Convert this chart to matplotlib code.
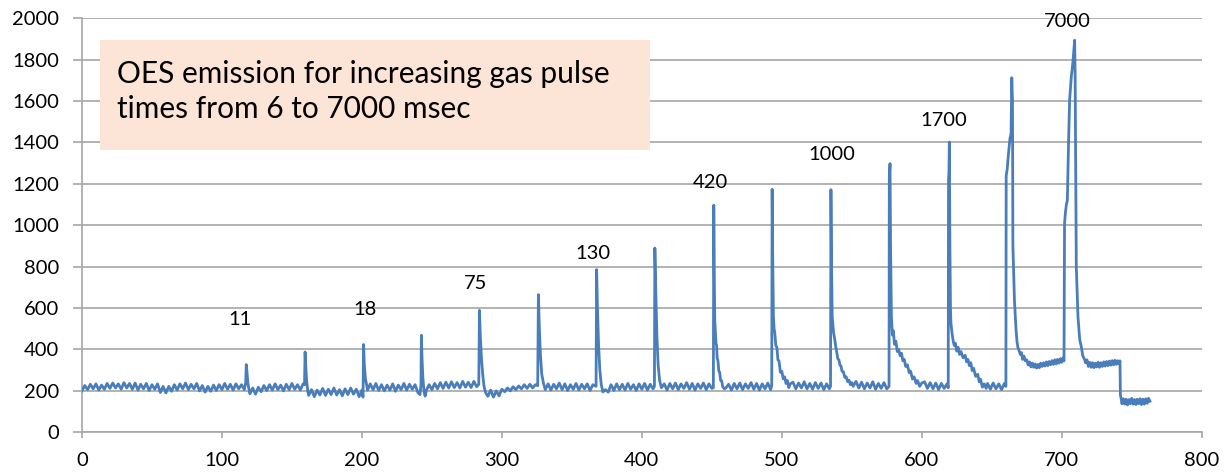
import matplotlib
matplotlib.use("Agg")
import matplotlib.pyplot as plt
from matplotlib.patches import Rectangle

# OES trace (time axis units as in the original chart)
t = [
    # baseline
    0, 2, 4, 6, 8, 10, 12, 14, 16, 18, 20, 22, 24, 26, 28, 30, 32, 34, 36, 38,
    40, 42, 44, 46, 48, 50, 52, 54, 56, 58, 60, 62, 64, 66, 68, 70, 72, 74, 76, 78,
    80, 82, 84, 86, 88, 90, 92, 94, 96, 98, 100, 102, 104, 106, 108, 110, 112, 114, 116,
    # pulse 11
    117, 117.4, 117.8, 118.5, 119.5,
    120, 122, 124, 126, 128, 130, 132, 134, 136, 138, 140, 142, 144, 146, 148, 150, 152, 154, 156, 158,
    159, 159.4, 159.9, 160.5, 161.3,
    162, 164, 166, 168, 170, 172, 174, 176, 178, 180, 182, 184, 186, 188, 190, 192, 194, 196, 198, 200,
    # pulse 18
    200.8, 201.2, 201.7, 202.5, 203.5,
    204, 206, 208, 210, 212, 214, 216, 218, 220, 222, 224, 226, 228, 230, 232, 234, 236, 238, 240,
    241.5, 242.2, 242.5, 243, 243.6, 244.4, 245.2,
    246, 248, 250, 252, 254, 256, 258, 260, 262, 264, 266, 268, 270, 272, 274, 276, 278, 280, 282,
    # pulse 75
    283.5, 284, 284.6, 285.4, 286.3, 287.3, 288.5,
    290, 292, 294, 296, 298, 300, 302, 304, 306, 308, 310, 312, 314, 316, 318, 320, 322, 324,
    325.6, 326.1, 326.7, 327.5, 328.5, 329.8,
    331, 333, 335, 337, 339, 341, 343, 345, 347, 349, 351, 353, 355, 357, 359, 361, 363, 365,
    # pulse 130
    367.3, 367.7, 368.3, 369.1, 370, 371, 372.2,
    374, 376, 378, 380, 382, 384, 386, 388, 390, 392, 394, 396, 398, 400, 402, 404, 406, 408,
    409, 409.3, 409.9, 410.7, 411.6, 412.7, 414,
    416, 418, 420, 422, 424, 426, 428, 430, 432, 434, 436, 438, 440, 442, 444, 446, 448, 450,
    # pulse 420
    451.1, 451.4, 451.7, 452.1, 452.6, 453, 453.4, 453.8, 454.4, 455, 455.6, 456.3, 457, 457.8, 459,
    460, 462, 464, 466, 468, 470, 472, 474, 476, 478, 480, 482, 484, 486, 488, 490, 492,
    492.8, 493.1, 493.5, 494, 494.5, 495, 495.7, 496.5, 497.2, 498, 499, 500, 501, 502, 503, 504, 505, 506,
    508, 510, 512, 514, 516, 518, 520, 522, 524, 526, 528, 530, 532, 534,
    # pulse 1000
    534.8, 535.1, 535.5, 536, 536.5, 537, 537.8, 538.5, 539.2, 540, 540.8, 541.5, 542.3, 543, 544, 545,
    546, 547, 548, 549, 550, 551,
    553, 555, 557, 559, 561, 563, 565, 567, 569, 571, 573, 575,
    576.6, 576.8, 577, 577.3, 577.7, 578.3, 579, 579.7, 580.5, 581.5, 582.5, 583.5, 584.5, 585.5, 586.5,
    587.5, 588.5, 589.7, 591, 592, 593.3, 594.5, 596, 597, 598.5, 600,
    602, 604, 606, 608, 610, 612, 614, 616, 618,
    # pulse 1700
    618.9, 619.1, 619.4, 619.7, 620.1, 620.5, 620.8, 621.4, 622, 622.6, 623.2, 624, 625, 626, 627, 628,
    629.5, 631, 632, 633, 634, 635, 636, 637, 638.5, 640, 641, 642, 643.3, 644.6, 646, 647,
    649, 651, 653, 655, 657, 659,
    660.1, 660.3, 661, 662, 663, 663.8, 664.3, 664.8, 665.1, 665.5, 666.2, 667.3, 668, 668.6, 669.5, 670.5,
    671.2, 672, 673, 674, 675, 676, 677, 678, 679, 680, 681, 682, 683, 684, 685, 686, 687, 688, 689, 690,
    691, 692, 693, 694, 695, 696, 697, 698, 699, 700, 701, 701.6,
    # pulse 7000
    702, 702.6, 703.3, 704, 704.8, 705.6, 706.8, 708, 709.2, 709.6, 709.8, 710.4, 711.6, 712.8, 714, 715,
    716.3, 717, 718, 719, 720, 721, 722, 723, 724, 725, 726, 727, 728, 729, 730, 731, 732, 733, 734, 735,
    736, 737, 738, 739, 740, 741, 741.6,
    741.9, 742.5, 743, 744, 745, 746, 747, 748, 749, 750, 751, 752, 753, 754, 755, 756, 757, 758, 759,
    760, 761, 762, 763,
]
oes = [
    200, 226, 206, 232, 210, 234, 204, 228, 208, 236, 212, 238, 214, 234, 208, 240, 214, 236, 208, 238,
    204, 232, 210, 236, 202, 230, 208, 234, 192, 222, 190, 222, 198, 230, 204, 234, 210, 238, 206, 232,
    210, 236, 200, 226, 194, 222, 198, 228, 202, 230, 206, 236, 208, 232, 204, 234, 210, 230, 206,
    240, 327, 300, 240, 200,
    186, 214, 184, 218, 196, 226, 202, 230, 204, 234, 206, 228, 200, 232, 206, 236, 208, 230, 204, 234,
    230, 388, 320, 250, 200,
    178, 206, 172, 204, 180, 212, 178, 208, 182, 214, 180, 206, 176, 210, 182, 214, 184, 208, 172, 204,
    170, 424, 330, 260, 225,
    204, 234, 206, 236, 202, 230, 200, 228, 204, 234, 198, 228, 206, 236, 204, 232, 208, 230, 192,
    182, 230, 469, 350, 260, 195, 175,
    202, 230, 206, 236, 210, 240, 212, 242, 214, 244, 216, 240, 214, 246, 218, 242, 216, 246, 220,
    232, 589, 470, 360, 280, 220, 190,
    174, 204, 170, 200, 176, 208, 196, 214, 200, 220, 206, 224, 210, 230, 212, 232, 214, 230,
    225, 665, 520, 380, 280, 235,
    206, 234, 204, 232, 210, 238, 206, 234, 202, 230, 208, 236, 204, 232, 210, 234, 202, 230,
    222, 786, 600, 420, 300, 230, 195,
    206, 194, 230, 202, 234, 206, 232, 204, 236, 208, 230, 202, 234, 208, 236, 204, 232, 210,
    222, 890, 700, 480, 330, 250, 215,
    234, 204, 236, 210, 238, 206, 234, 212, 240, 208, 236, 204, 234, 212, 238, 206, 234, 212,
    215, 1097, 800, 540, 480, 430, 420, 360, 345, 295, 290, 250, 250, 220, 210,
    214, 232, 204, 236, 210, 238, 206, 234, 212, 240, 208, 236, 204, 234, 210, 238, 206,
    225, 1174, 850, 560, 500, 480, 420, 410, 350, 345, 290, 295, 258, 268, 236, 250, 216, 234,
    242, 210, 238, 214, 244, 210, 236, 208, 240, 212, 238, 206, 234, 210,
    222, 1172, 820, 560, 520, 480, 450, 415, 390, 355, 350, 325, 320, 295, 292, 265,
    268, 245, 252, 230, 240, 222,
    246, 214, 242, 210, 238, 214, 244, 208, 236, 212, 240, 210,
    222, 1230, 1260, 1298, 900, 560, 470, 490, 425, 440, 390, 400, 370, 382, 345,
    352, 318, 326, 288, 296, 258, 268, 236, 250, 222, 238,
    244, 212, 240, 210, 238, 206, 236, 212, 234,
    215, 1217, 1260, 1402, 900, 600, 530, 490, 460, 435, 420, 430, 392, 410, 376, 390,
    360, 372, 340, 352, 322, 336, 298, 310, 270, 280, 244, 256, 218, 234, 212, 236,
    208, 238, 210, 234, 206, 236,
    222, 1240, 1270, 1350, 1420, 1443, 1713, 1600, 900, 798, 638, 500, 440, 412, 395, 375,
    385, 352, 368, 345, 350, 325, 340, 316, 334, 314, 330, 310, 328, 312, 334, 318, 336, 320, 340, 322,
    342, 326, 346, 328, 350, 330, 352, 334, 356, 338, 360, 345,
    1010, 1060, 1100, 1121, 1380, 1604, 1716, 1790, 1894, 1700, 1449, 798, 557, 450, 412, 370,
    352, 336, 350, 318, 338, 314, 336, 312, 334, 316, 338, 314, 336, 318, 340, 320, 342, 322, 344, 324,
    346, 326, 348, 328, 346, 330, 345,
    180, 160, 138, 162, 136, 160, 132, 158, 138, 164, 136, 158, 134, 160, 138, 162, 134, 160, 136,
    162, 140, 164, 150,
]

# pulse-time labels and where they sit
pulse_labels = ["11", "18", "75", "130", "420", "1000", "1700", "7000"]
label_x = [113, 202, 281, 365, 449, 536, 616, 704]
label_y = [543, 591, 721, 866, 1209, 1340, 1504, 1985]

title_text = "OES emission for increasing gas pulse\ntimes from 6 to 7000 msec"

line_color = "#4A7EBB"
grid_color = "#A6A6A6"
font = ["Lato", "DejaVu Sans"]

fig = plt.figure(figsize=(12.25, 4.74), dpi=100)
ax = fig.add_axes([0.0669, 0.088, 0.9141, 0.8734])

ax.plot(t, oes, color=line_color, lw=2.0, zorder=3)

ax.set_xlim(0, 800)
ax.set_ylim(0, 2000)
ax.set_xticks(range(0, 801, 100))
ax.set_yticks(range(0, 2001, 200))
ax.yaxis.grid(True, color=grid_color, lw=1.2)
ax.set_axisbelow(True)

for side in ["top", "right"]:
    ax.spines[side].set_visible(False)
for side in ["left", "bottom"]:
    ax.spines[side].set_color(grid_color)
    ax.spines[side].set_linewidth(1.2)

ax.tick_params(axis="x", direction="out", length=4, width=1.2, color=grid_color, pad=10)
ax.tick_params(axis="y", direction="out", length=6.5, width=1.2, color=grid_color, pad=10)
for lab in ax.get_xticklabels() + ax.get_yticklabels():
    lab.set_family(font)
    lab.set_fontsize(14.5)
    lab.set_color("black")

for txt, x, y in zip(pulse_labels, label_x, label_y):
    ax.text(x, y, txt, ha="center", va="center", fontsize=14.5, family=font,
            clip_on=False, zorder=4)

# annotation box
ax.add_patch(Rectangle((0.0161, 0.682), 0.4909, 0.2656, transform=ax.transAxes,
                       facecolor="#FCE4D6", edgecolor="none", zorder=2))
ax.text(0.031, 0.824, title_text, transform=ax.transAxes, ha="left", va="center",
        fontsize=21.5, family=font, linespacing=1.3, zorder=5)

fig.savefig("out.png", dpi=100)
